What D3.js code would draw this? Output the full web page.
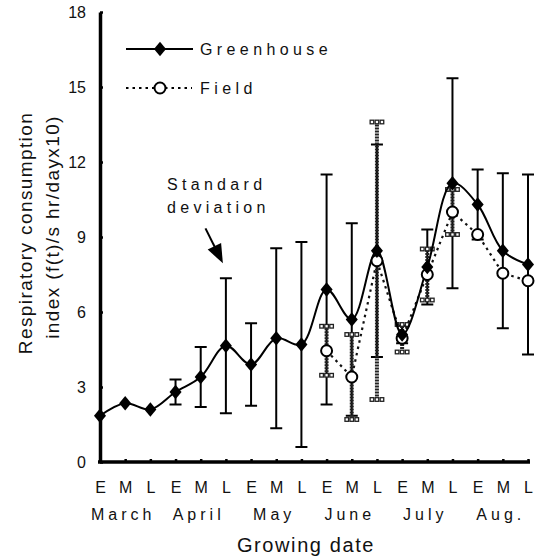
<!DOCTYPE html>
<html>
<head>
<meta charset="utf-8">
<script src="https://cdn.jsdelivr.net/npm/d3@7/dist/d3.min.js"></script>
<style>
  html, body { margin: 0; padding: 0; background: #fff; }
  svg { display: block; }
  text { font-family: "Liberation Sans", Arial, sans-serif; fill: #111; }
</style>
</head>
<body>
<svg id="chart" width="535" height="560"></svg>
<script>
// ---- data ----
const periods = ["E","M","L","E","M","L","E","M","L","E","M","L","E","M","L","E","M","L"];
const months = ["March","April","May","June","July","Aug."];
const greenhouse   = [1.85, 2.35, 2.1, 2.8, 3.4, 4.65, 3.9, 4.95, 4.7, 6.9, 5.7, 8.45, 5.1, 7.8, 11.15, 10.3, 8.45, 7.9];
const greenhouseSD = [null, null, null, 0.5, 1.2, 2.7, 1.65, 3.6, 4.1, 4.6, 3.85, 4.25, 0.35, 1.5, 4.2, 1.4, 3.1, 3.6];
const field   = [null, null, null, null, null, null, null, null, null, 4.45, 3.4, 8.05, 4.95, 7.5, 10.0, 9.1, 7.55, 7.25];
const fieldSD = [null, null, null, null, null, null, null, null, null, 0.98, 1.7, 5.55, 0.55, 1.02, 0.9, null, null, null];
const yTicks = [0, 3, 6, 9, 12, 15, 18];
const seriesNames = ["Greenhouse", "Field"];

// ---- layout ----
const svg = d3.select("#chart");
const idx = d3.range(periods.length);
const x = d3.scalePoint().domain(idx).range([100, 528]);
const y = d3.scaleLinear().domain([0, 18]).range([462, 12]);

// ---- axes ----
const yAxis = svg.append("g").attr("transform", "translate(100,0)")
  .call(d3.axisLeft(y).tickValues(yTicks).tickSizeInner(-3).tickSizeOuter(0).tickPadding(14));
yAxis.select(".domain").attr("stroke", "#000").attr("stroke-width", 3.5);
yAxis.selectAll(".tick line").attr("stroke", "#000").attr("stroke-width", 2.5);
yAxis.selectAll(".tick text").style("font-size", "16px").attr("font-family", "Liberation Sans, Arial").attr("fill", "#111");

const xAxis = svg.append("g").attr("transform", "translate(0,462)")
  .call(d3.axisBottom(x).tickFormat(i => periods[i]).tickSizeInner(-3).tickSizeOuter(0).tickPadding(20));
xAxis.select(".domain").attr("stroke", "#000").attr("stroke-width", 3.5)
  .attr("d", `M98,0H${x(idx.length - 1) + 2}`);
xAxis.selectAll(".tick line").attr("stroke", "#000").attr("stroke-width", 2.5);
xAxis.selectAll(".tick text").style("font-size", "16px").attr("font-family", "Liberation Sans, Arial").attr("fill", "#111");

// month labels (centered on the M period of each month)
svg.append("g").selectAll("text").data(months).join("text")
  .attr("x", (m, i) => x(i * 3 + 1) - 2)
  .attr("y", 520)
  .attr("text-anchor", "middle")
  .style("font-size", "16px")
  .style("letter-spacing", "4px")
  .text(d => d);

svg.append("text").attr("x", 306).attr("y", 552).attr("text-anchor", "middle")
  .style("font-size", "20px").style("letter-spacing", "1.6px").text("Growing date");

// y title
const yt = svg.append("g").attr("transform", "translate(0,233) rotate(-90)");
yt.append("text").attr("x", 0).attr("y", 32).attr("text-anchor", "middle")
  .style("font-size", "19px").style("letter-spacing", "1.4px").text("Respiratory consumption");
yt.append("text").attr("x", 6).attr("y", 59).attr("text-anchor", "middle")
  .style("font-size", "19px").style("letter-spacing", "1.4px").text("index (f(t)/s hr/dayx10)");

// ---- error bars ----
const gErr = idx.filter(i => greenhouseSD[i] != null);
const fErr = idx.filter(i => fieldSD[i] != null);

const eg = svg.append("g").attr("stroke", "#000").attr("stroke-width", 2);
eg.selectAll("line.v").data(gErr).join("line").attr("class", "v")
  .attr("x1", i => x(i)).attr("x2", i => x(i))
  .attr("y1", i => y(greenhouse[i] - greenhouseSD[i])).attr("y2", i => y(greenhouse[i] + greenhouseSD[i]));
eg.selectAll("line.t").data(gErr).join("line").attr("class", "t")
  .attr("x1", i => x(i) - 6).attr("x2", i => x(i) + 6)
  .attr("y1", i => y(greenhouse[i] + greenhouseSD[i])).attr("y2", i => y(greenhouse[i] + greenhouseSD[i]));
eg.selectAll("line.b").data(gErr).join("line").attr("class", "b")
  .attr("x1", i => x(i) - 6).attr("x2", i => x(i) + 6)
  .attr("y1", i => y(greenhouse[i] - greenhouseSD[i])).attr("y2", i => y(greenhouse[i] - greenhouseSD[i]));

const ef = svg.append("g").attr("stroke", "#222");
ef.selectAll("line.v").data(fErr).join("line").attr("class", "v")
  .attr("stroke-width", 4).attr("stroke-dasharray", "2,1")
  .attr("x1", i => x(i)).attr("x2", i => x(i))
  .attr("y1", i => y(field[i] - fieldSD[i])).attr("y2", i => y(field[i] + fieldSD[i]));
[1, -1].forEach(s => {
  ef.append("g").selectAll("g").data(fErr).join("g")
    .each(function(i) {
      const cy = y(field[i] + s * fieldSD[i]);
      d3.select(this).selectAll("rect").data([-5, 0, 5]).join("rect")
        .attr("x", dx => x(i) + dx - 1.8).attr("y", cy - 1.8)
        .attr("width", 3.6).attr("height", 3.6)
        .attr("fill", "#fff").attr("stroke", "#222").attr("stroke-width", 1.3);
    });
});

// ---- lines ----
const gIdx = idx.filter(i => greenhouse[i] != null);
const fIdx = idx.filter(i => field[i] != null);

svg.append("path").datum(fIdx)
  .attr("fill", "none").attr("stroke", "#111").attr("stroke-width", 2.2)
  .attr("stroke-dasharray", "2.5,4")
  .attr("d", d3.line().x(i => x(i)).y(i => y(field[i])));

svg.append("path").datum(gIdx)
  .attr("fill", "none").attr("stroke", "#000").attr("stroke-width", 2)
  .attr("d", d3.line().x(i => x(i)).y(i => y(greenhouse[i])).curve(d3.curveCatmullRom.alpha(0.5)));

// ---- markers ----
const diamond = d3.symbol().type(d3.symbolDiamond).size(95);
svg.append("g").selectAll("circle").data(fIdx).join("circle")
  .attr("cx", i => x(i)).attr("cy", i => y(field[i])).attr("r", 5.5)
  .attr("fill", "#fff").attr("stroke", "#000").attr("stroke-width", 2);
svg.append("g").selectAll("path").data(gIdx).join("path")
  .attr("transform", i => `translate(${x(i)},${y(greenhouse[i])}) scale(1.15,0.8)`)
  .attr("d", diamond).attr("fill", "#000");

// ---- legend ----
const lg = svg.append("g");
lg.append("line").attr("x1", 126).attr("x2", 193).attr("y1", 49).attr("y2", 49)
  .attr("stroke", "#000").attr("stroke-width", 2);
lg.append("path").attr("transform", "translate(160,49) scale(1.15,0.8)").attr("d", diamond).attr("fill", "#000");
lg.append("text").attr("x", 200).attr("y", 55).style("font-size", "16px").style("letter-spacing", "4.4px").text(seriesNames[0]);
lg.append("line").attr("x1", 126).attr("x2", 192).attr("y1", 88).attr("y2", 88)
  .attr("stroke", "#000").attr("stroke-width", 2).attr("stroke-dasharray", "2.5,4");
lg.append("circle").attr("cx", 160).attr("cy", 88).attr("r", 5.5)
  .attr("fill", "#fff").attr("stroke", "#000").attr("stroke-width", 2);
lg.append("text").attr("x", 200).attr("y", 94).style("font-size", "16px").style("letter-spacing", "4.4px").text(seriesNames[1]);

// ---- annotation ----
svg.append("text").attr("x", 167).attr("y", 190).style("font-size", "16px").style("letter-spacing", "4.3px").text("Standard");
svg.append("text").attr("x", 167).attr("y", 213).style("font-size", "16px").style("letter-spacing", "4.3px").text("deviation");
const tip = [x(5) - 3, y(greenhouse[5] + greenhouseSD[5]) - 15];
const dir = [0.447, 0.894], perp = [-0.894, 0.447];
const base = [tip[0] - 19 * dir[0], tip[1] - 19 * dir[1]];
svg.append("line").attr("x1", base[0] - 20 * dir[0]).attr("y1", base[1] - 20 * dir[1])
  .attr("x2", base[0] + 2 * dir[0]).attr("y2", base[1] + 2 * dir[1])
  .attr("stroke", "#000").attr("stroke-width", 2);
svg.append("path")
  .attr("d", `M${tip[0]},${tip[1]}L${base[0] + 7.5 * perp[0]},${base[1] + 7.5 * perp[1]}L${base[0] - 7.5 * perp[0]},${base[1] - 7.5 * perp[1]}Z`)
  .attr("fill", "#000");
</script>
</body>
</html>
